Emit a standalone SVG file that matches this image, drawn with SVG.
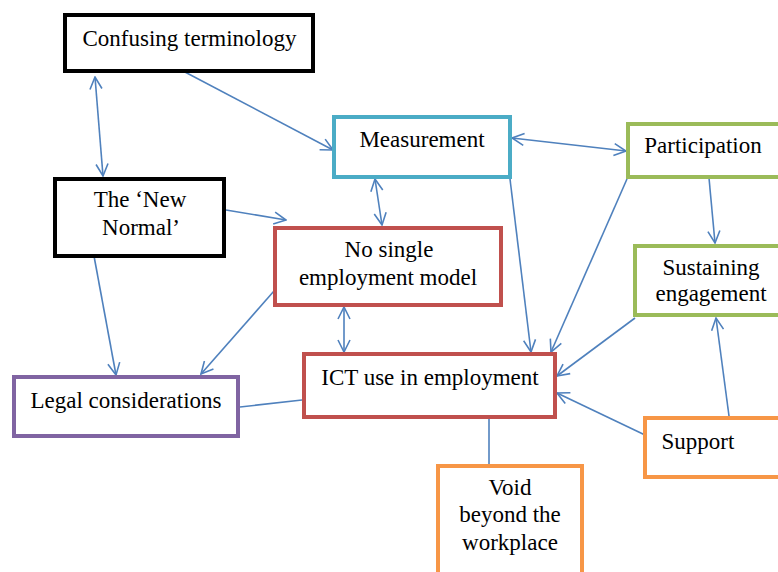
<svg xmlns="http://www.w3.org/2000/svg" width="778" height="572" viewBox="0 0 778 572">
<style>
text{font-family:"Liberation Serif","Times New Roman",serif;font-size:23px;fill:#000;text-anchor:middle}
.box{fill:#fff;stroke-width:4}
.k{stroke:#000}.c{stroke:#4BACC6}.r{stroke:#C0504D}.g{stroke:#9BBB59}.p{stroke:#8064A2}.o{stroke:#F79646}
.ln{stroke:#4F81BD;stroke-width:1.6;fill:none}
</style>
<defs>
<marker id="ah" markerUnits="userSpaceOnUse" viewBox="0 0 14 14" refX="13" refY="7" markerWidth="14" markerHeight="14" orient="auto-start-reverse">
<path d="M1,1 L13,7 L1,13" fill="none" stroke="#4F81BD" stroke-width="1.6"/>
</marker>
</defs>
<rect width="778" height="572" fill="#fff"/>
<g id="connectors">
<line class="ln" x1="95" y1="77" x2="103" y2="176" marker-start="url(#ah)" marker-end="url(#ah)"/>
<line class="ln" x1="183" y1="71" x2="333" y2="150" marker-end="url(#ah)"/>
<line class="ln" x1="226" y1="210" x2="286" y2="220" marker-end="url(#ah)"/>
<line class="ln" x1="375" y1="179" x2="382" y2="225" marker-start="url(#ah)" marker-end="url(#ah)"/>
<line class="ln" x1="512" y1="138" x2="626" y2="151" marker-start="url(#ah)" marker-end="url(#ah)"/>
<line class="ln" x1="510" y1="179" x2="531" y2="352" marker-end="url(#ah)"/>
<line class="ln" x1="627" y1="179" x2="551" y2="352" marker-end="url(#ah)"/>
<line class="ln" x1="709" y1="178" x2="715" y2="243" marker-end="url(#ah)"/>
<line class="ln" x1="635" y1="318" x2="557" y2="376" marker-end="url(#ah)"/>
<line class="ln" x1="645" y1="435" x2="557" y2="393" marker-end="url(#ah)"/>
<line class="ln" x1="729" y1="416" x2="716" y2="318" marker-end="url(#ah)"/>
<line class="ln" x1="489" y1="419" x2="489" y2="464"/>
<line class="ln" x1="302" y1="400" x2="240" y2="407"/>
<line class="ln" x1="274" y1="291" x2="201" y2="374" marker-end="url(#ah)"/>
<line class="ln" x1="94" y1="256" x2="116" y2="375" marker-end="url(#ah)"/>
<line class="ln" x1="344" y1="307" x2="344" y2="352" marker-start="url(#ah)" marker-end="url(#ah)"/>
</g>
<g id="confusing"><rect class="box k" x="65" y="15" width="248" height="56"/><text x="189.5" y="46">Confusing terminology</text></g>
<g id="measurement"><rect class="box c" x="334" y="117" width="176" height="60"/><text x="422" y="147">Measurement</text></g>
<g id="participation"><rect class="box g" x="628" y="124" width="156" height="53"/><text x="703" y="153">Participation</text></g>
<g id="sustaining"><rect class="box g" x="635" y="246" width="149" height="69"/><text x="711" y="275">Sustaining</text><text x="711" y="301">engagement</text></g>
<g id="newnormal"><rect class="box k" x="55" y="179" width="169" height="77"/><text x="140" y="207">The ‘New</text><text x="141" y="235">Normal’</text></g>
<g id="nosingle"><rect class="box r" x="275" y="228" width="226" height="77"/><text x="389" y="257">No single</text><text x="388" y="285">employment model</text></g>
<g id="ict"><rect class="box r" x="304" y="354" width="251" height="63"/><text x="430" y="385">ICT use in employment</text></g>
<g id="legal"><rect class="box p" x="14" y="377" width="224" height="59"/><text x="126" y="408">Legal considerations</text></g>
<g id="void"><rect class="box o" x="438" y="466" width="144" height="120"/><text x="510" y="495">Void</text><text x="510" y="522">beyond the</text><text x="510" y="550">workplace</text></g>
<g id="support"><rect class="box o" x="645" y="418" width="140" height="59"/><text x="698" y="449">Support</text></g>
</svg>
